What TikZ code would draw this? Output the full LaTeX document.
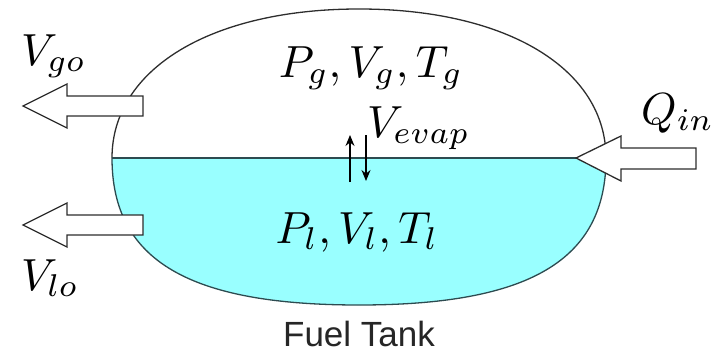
\documentclass[tikz,border=0pt]{standalone}
\usepackage{graphicx}
\usepackage{fontspec}
\newfontfamily\arialfont{Liberation Sans}
\usetikzlibrary{arrows.meta}
\definecolor{liquid}{RGB}{153,255,255}
\definecolor{surface}{RGB}{45,75,80}
\definecolor{shell}{RGB}{45,45,45}
\newcommand{\tankmath}[1]{\scalebox{4.5}{$#1$}}

\begin{document}
\begin{tikzpicture}[x=1pt, y=-1pt,
  mathlbl/.style={inner sep=0pt},
  blockarrow/.style={draw=shell, fill=white, line width=1.3pt},
  evap/.style={-{Stealth[length=11pt,width=9pt]}, line width=1.3pt},
]
  \useasboundingbox (0,0) rectangle (711,353);

  % Tank shell
  \coordinate (tk-l) at (112,158);
  \coordinate (tk-r) at (606,158);
  \coordinate (tk-t) at (359,9);
  \coordinate (tk-b) at (359,305);
  \fill[liquid] (tk-l) .. controls (112,261) and (190,305) .. (tk-b)
    .. controls (528,305) and (606,261) .. (tk-r) -- cycle;
  \draw[surface, line width=1.3pt] (tk-l) .. controls (112,261) and (190,305) .. (tk-b)
    .. controls (528,305) and (606,261) .. (tk-r);
  \draw[shell, line width=1.3pt] (tk-l) .. controls (112,69) and (211,9) .. (tk-t)
    .. controls (507,9) and (606,69) .. (tk-r);

  % Liquid surface
  \coordinate (qtip) at (576,158);
  \draw[surface, line width=2.2pt] (tk-l) -- (qtip);

  % Flows
  \draw[blockarrow] (143,96) -- (67,96) -- (67,84) -- (23,106) -- (67,128)
    -- (67,116) -- (143,116) -- cycle;
  \draw[blockarrow] (143,215) -- (67,215) -- (67,203) -- (23,225) -- (67,247)
    -- (67,235) -- (143,235) -- cycle;
  \draw[blockarrow] (696,148) -- (621,148) -- (621,136) -- (qtip) -- (621,181)
    -- (621,169) -- (696,169) -- cycle;

  % Evaporation
  \coordinate (up0) at (350,182);
  \coordinate (up1) at (350,135);
  \coordinate (dn0) at (366,135);
  \coordinate (dn1) at (366,181);
  \draw[evap] (up0) -- (up1);
  \draw[evap] (dn0) -- (dn1);

  % Labels
  \node[mathlbl, anchor=base] (gas) at (371,77) {\tankmath{P_g, V_g, T_g}};
  \node[mathlbl, anchor=base] (liq) at (357,243) {\tankmath{P_l, V_l, T_l}};
  \node[mathlbl, anchor=base west] (vgo) at (21,65) {\tankmath{V_{go}}};
  \node[mathlbl, anchor=base west] (vlo) at (21,290) {\tankmath{V_{lo}}};
  \node[mathlbl, anchor=base west] (qin) at (641,124) {\tankmath{Q_{in}}};
  \node[mathlbl, anchor=base west] (vev) at (367,137) {\tankmath{V_{evap}}};
  \node[font=\arialfont\fontsize{35}{40}\selectfont, text=black!85,
    anchor=base, inner sep=0pt] (name) at (359,346) {Fuel Tank};
\end{tikzpicture}
\end{document}
